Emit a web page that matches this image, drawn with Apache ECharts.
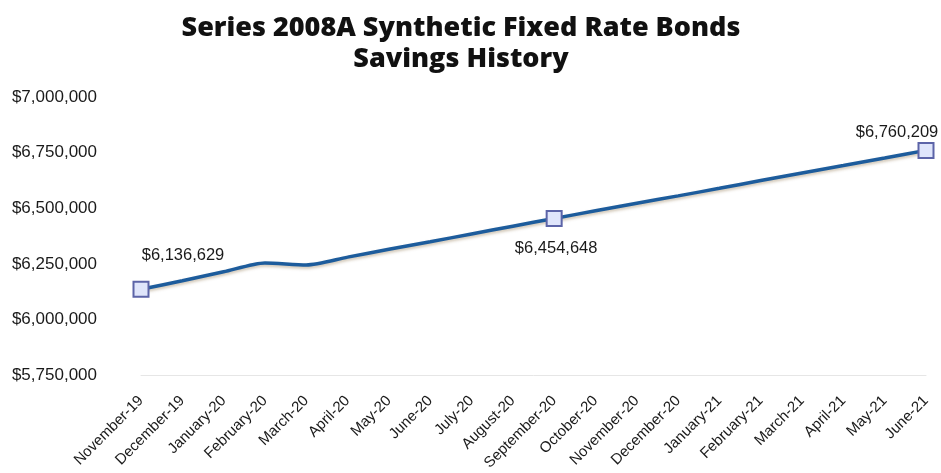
<!DOCTYPE html>
<html>
<head>
<meta charset="utf-8">
<script src="https://cdn.jsdelivr.net/npm/echarts@6/dist/echarts.min.js"></script>
<style>
  html, body { margin: 0; padding: 0; background: #ffffff; }
  #chart { width: 941px; height: 473px; }
</style>
</head>
<body>
<div id="chart"></div>
<script>
// Monthly cumulative savings, November 2019 through June 2021
const months = [
  'November-19', 'December-19', 'January-20', 'February-20', 'March-20',
  'April-20', 'May-20', 'June-20', 'July-20', 'August-20',
  'September-20', 'October-20', 'November-20', 'December-20', 'January-21',
  'February-21', 'March-21', 'April-21', 'May-21', 'June-21'
];
const savings = [
  6136629, 6175000, 6215000, 6255000, 6246000,
  6281000, 6316000, 6350000, 6385000, 6420000,
  6454648, 6489000, 6523000, 6556000, 6590000,
  6625000, 6659000, 6692000, 6726000, 6760209
];
// Months that carry a marker and a value label
const highlighted = [0, 10, 19];
const yTicks = { min: 5750000, max: 7000000, step: 250000 };

const fmt = v => '$' + Math.round(v).toLocaleString('en-US');

const labelSpots = {
  0:  { position: 'top',    offset: [42, -12] },
  10: { position: 'bottom', offset: [2, 8] },
  19: { position: 'top',    offset: [-29, 4] }
};

const bodyFont = "'Liberation Sans', Arial, sans-serif";

const seriesData = savings.map((v, i) => {
  if (highlighted.indexOf(i) < 0) return { value: v, symbol: 'none' };
  const spot = labelSpots[i];
  return {
    value: v,
    symbol: 'rect',
    symbolSize: 15,
    label: {
      show: true,
      position: spot.position,
      offset: spot.offset,
      formatter: p => fmt(p.value),
      color: '#1a1a1a',
      fontSize: 16.5,
      fontFamily: bodyFont
    }
  };
});

const chart = echarts.init(document.getElementById('chart'), null, { renderer: 'canvas' });
chart.setOption({
  backgroundColor: '#ffffff',
  animation: false,
  title: {
    text: 'Series 2008A Synthetic Fixed Rate Bonds\nSavings History',
    left: 456,
    textAlign: 'center',
    top: 8,
    textStyle: {
      fontFamily: "'Open Sans', sans-serif",
      fontWeight: 800,
      fontSize: 27,
      lineHeight: 31,
      color: '#111111'
    }
  },
  grid: { left: 141, right: 15, top: 97, bottom: 97 },
  xAxis: {
    type: 'category',
    data: months,
    boundaryGap: false,
    axisLine: { show: true, lineStyle: { color: '#e6e6e6', width: 1 } },
    axisTick: { show: false },
    axisLabel: {
      rotate: 45,
      interval: 0,
      margin: 23,
      color: '#1a1a1a',
      fontSize: 15,
      fontFamily: bodyFont
    },
    splitLine: { show: false }
  },
  yAxis: {
    type: 'value',
    min: yTicks.min,
    max: yTicks.max,
    interval: yTicks.step,
    axisLine: { show: false },
    axisTick: { show: false },
    splitLine: { show: false },
    axisLabel: {
      formatter: v => fmt(v),
      margin: 44,
      color: '#1a1a1a',
      fontSize: 17,
      fontFamily: bodyFont
    }
  },
  series: [{
    type: 'line',
    data: seriesData,
    smooth: 0.25,
    showSymbol: true,
    lineStyle: {
      color: '#1d5c9c',
      width: 3.5,
      shadowColor: 'rgba(120, 90, 40, 0.35)',
      shadowBlur: 3,
      shadowOffsetY: 2
    },
    itemStyle: {
      color: '#dfe5fb',
      borderColor: '#5c64a8',
      borderWidth: 2
    }
  }]
});
</script>
</body>
</html>
